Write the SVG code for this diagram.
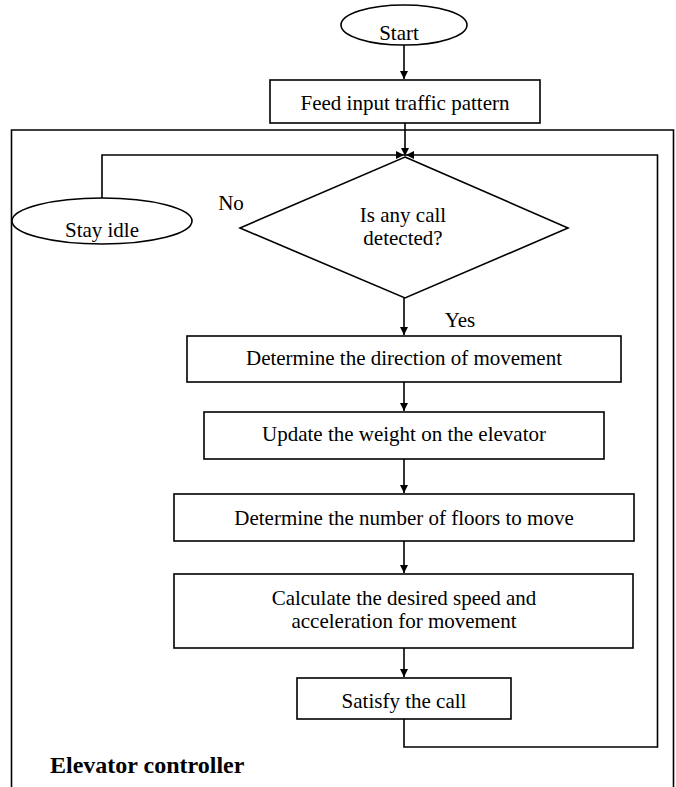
<svg xmlns="http://www.w3.org/2000/svg" width="676" height="787" viewBox="0 0 676 787">
<style>
.s{fill:#fff;stroke:#000;stroke-width:1.6}
.l{fill:none;stroke:#000;stroke-width:1.6}
.t{font-size:21px;fill:#000;text-anchor:middle}
.b{font-weight:bold;font-size:24px;text-anchor:start}
</style>
<defs>
<marker id="ah" markerWidth="10" markerHeight="10" refX="8" refY="4" orient="auto" markerUnits="userSpaceOnUse">
<path d="M0,0 L8,4 L0,8 Z" fill="#000"/>
</marker>
</defs>
<g font-family="'Liberation Serif', 'Times New Roman', 'DejaVu Serif', serif">
<g id="container">
<path class="l" d="M11.5,787 V130 H673.5 V787"/>
<text class="b" x="50" y="773">Elevator controller</text>
</g>
<g id="connectors">
<line class="l" x1="404" y1="45" x2="404" y2="79" marker-end="url(#ah)"/>
<line class="l" x1="405" y1="123" x2="405" y2="156" marker-end="url(#ah)"/>
<path class="l" d="M102,198 V155 H404" marker-end="url(#ah)"/>
<path class="l" d="M404,719 V747 H657.5 V155 H406" marker-end="url(#ah)"/>
<line class="l" x1="404" y1="298" x2="404" y2="335" marker-end="url(#ah)"/>
<line class="l" x1="404" y1="382" x2="404" y2="411" marker-end="url(#ah)"/>
<line class="l" x1="404" y1="459" x2="404" y2="493" marker-end="url(#ah)"/>
<line class="l" x1="404" y1="541" x2="404" y2="573" marker-end="url(#ah)"/>
<line class="l" x1="404" y1="648" x2="404" y2="677" marker-end="url(#ah)"/>
<text class="t" x="460" y="327">Yes</text>
<text class="t" x="231" y="210">No</text>
</g>
<g id="start">
<ellipse class="s" cx="404" cy="25" rx="63" ry="20"/>
<text class="t" x="399" y="40">Start</text>
</g>
<g id="feed">
<rect class="s" x="270" y="80" width="270" height="43"/>
<text class="t" x="405" y="110">Feed input traffic pattern</text>
</g>
<g id="idle">
<ellipse class="s" cx="102" cy="221" rx="90" ry="23"/>
<text class="t" x="102" y="237">Stay idle</text>
</g>
<g id="decision">
<polygon class="s" points="405,157 568,228 405,298 240,228"/>
<text class="t" x="403" y="222">Is any call</text>
<text class="t" x="403" y="245">detected?</text>
</g>
<g id="direction">
<rect class="s" x="187" y="336" width="434" height="46"/>
<text class="t" x="404" y="365">Determine the direction of movement</text>
</g>
<g id="weight">
<rect class="s" x="204" y="412" width="400" height="47"/>
<text class="t" x="404" y="441">Update the weight on the elevator</text>
</g>
<g id="floors">
<rect class="s" x="174" y="494" width="460" height="47"/>
<text class="t" x="404" y="525">Determine the number of floors to move</text>
</g>
<g id="speed">
<rect class="s" x="174" y="574" width="459" height="74"/>
<text class="t" x="404" y="605">Calculate the desired speed and</text>
<text class="t" x="404" y="628">acceleration for movement</text>
</g>
<g id="satisfy">
<rect class="s" x="297" y="678" width="214" height="41"/>
<text class="t" x="404" y="708">Satisfy the call</text>
</g>
</g>
</svg>
